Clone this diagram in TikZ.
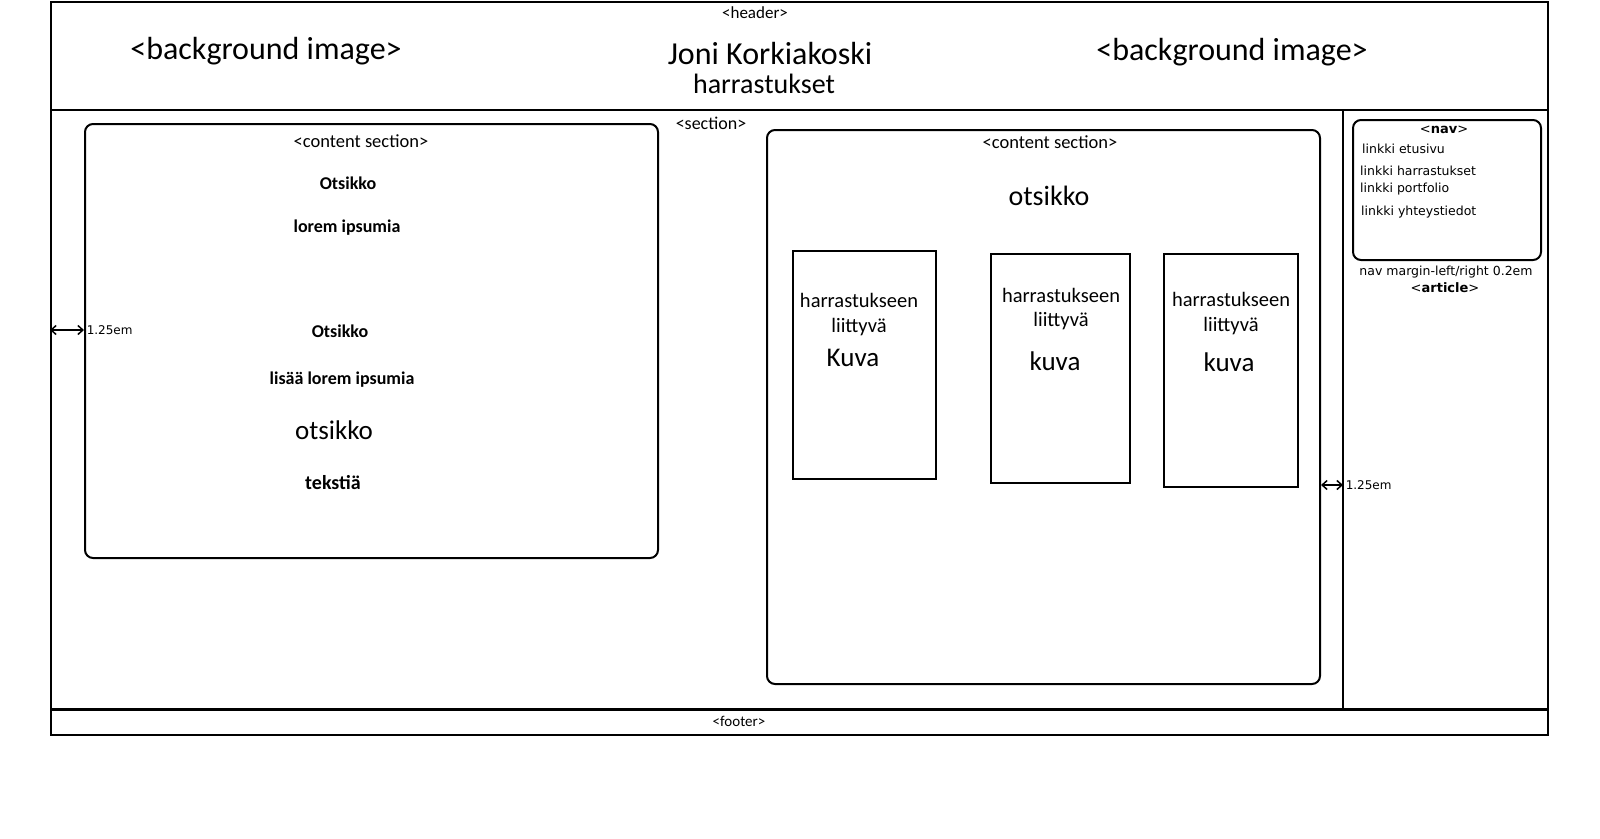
\documentclass[tikz,border=0pt]{standalone}
\usepackage{fontspec}
\setmainfont{Carlito}
\newfontfamily\tah{DejaVu Sans}
\usetikzlibrary{arrows.meta}
\newcommand{\fs}[1]{\fontsize{#1}{#1}\selectfont}
\tikzset{
  frame/.style={draw, line width=2pt, inner sep=0pt, anchor=north west},
  rbox/.style={frame, rounded corners=8pt},
  lbl/.style={inner sep=0pt, anchor=center},
  meas/.style={{Straight Barb[length=5pt,width=9pt]}-{Straight Barb[length=5pt,width=9pt]}, line width=1.5pt},
}
\begin{document}
\begin{tikzpicture}[x=1pt,y=-1pt]
\useasboundingbox (0,0) rectangle (1600,838);
% header
\node[frame, minimum width=1497pt, minimum height=108pt] (header) at (50,1) {};
\node[lbl] (hl) at (755,13) {\fs{17}<header>};
\node[lbl] (bg1) at (266,51) {\fs{32}<background image>};
\node[lbl] (bg2) at (1232,52) {\fs{32}<background image>};
\node[lbl] (name) at (770,54) {\fs{32}Joni Korkiakoski};
\node[lbl] (sub) at (764,84) {\fs{28}harrastukset};
% section
\node[frame, minimum width=1497pt, minimum height=600pt] (section) at (50,109) {};
\node[lbl] (sl) at (711,123) {\fs{18}<section>};
\coordinate (atop) at (1343,109);
\coordinate (abot) at (1343,709);
\draw[line width=1.5pt] (atop) -- (abot);
% footer
\node[frame, minimum width=1497pt, minimum height=25pt] (footer) at (50,709) {};
\draw[line width=3pt] (footer.north west) -- (footer.north east);
\node[lbl] (fl) at (739,721) {\fs{15}<footer>};
% left content section
\node[rbox, minimum width=573pt, minimum height=434pt] (lc) at (84,123) {};
\node[lbl] at (361,141) {\fs{18.5}<content section>};
\node[lbl] at (348,183) {\fs{18}\bfseries Otsikko};
\node[lbl] at (347,228) {\fs{18}\bfseries lorem ipsumia};
\node[lbl] at (340,331) {\fs{18}\bfseries Otsikko};
\node[lbl] at (342,380) {\fs{18}\bfseries lisää lorem ipsumia};
\node[lbl] at (334,430) {\fs{27}otsikko};
\node[lbl] at (333,483) {\fs{20}\bfseries tekstiä};
% left measure
\coordinate (lm) at (50,330);
\draw[meas] (lm) -- (lc.west |- lm) node[right, inner sep=2pt, font=\tah\fs{12}] {1.25em};
% right content section
\node[rbox, minimum width=553pt, minimum height=554pt] (rc) at (766,129) {};
\node[lbl] at (1050,142) {\fs{18.5}<content section>};
\node[lbl] at (1049,196) {\fs{28}otsikko};
% picture boxes
\node[frame, minimum width=143pt, minimum height=228pt] (p1) at (792,250) {};
\node[lbl] at (859,300) {\fs{20.5}harrastukseen};
\node[lbl] at (859,327) {\fs{20.5}liittyvä};
\node[lbl] at (853,358) {\fs{27}Kuva};
\node[frame, minimum width=139pt, minimum height=229pt] (p2) at (990,253) {};
\node[lbl] at (1061,295) {\fs{20.5}harrastukseen};
\node[lbl] at (1061,321) {\fs{20.5}liittyvä};
\node[lbl] at (1055,361) {\fs{27}kuva};
\node[frame, minimum width=134pt, minimum height=233pt] (p3) at (1163,253) {};
\node[lbl] at (1231,299) {\fs{20.5}harrastukseen};
\node[lbl] at (1231,326) {\fs{20.5}liittyvä};
\node[lbl] at (1229,362) {\fs{27}kuva};
% right measure
\coordinate (rm) at (1343,485);
\draw[meas] (rc.east |- rm) -- (rm) node[right, inner sep=2pt, font=\tah\fs{12}] {1.25em};
% nav
\node[rbox, minimum width=188pt, minimum height=140pt] (nav) at (1352,119) {};
\node[lbl] at (1444,130) {\tah\fs{13}<\textbf{nav}>};
\node[lbl, anchor=west] at (1362,149) {\tah\fs{12.5}linkki etusivu};
\node[lbl, anchor=west] at (1360,171) {\tah\fs{12.5}linkki harrastukset};
\node[lbl, anchor=west] at (1360,189) {\tah\fs{12.5}linkki portfolio};
\node[lbl, anchor=west] at (1361,212) {\tah\fs{12.5}linkki yhteystiedot};
\node[lbl] at (1446,272) {\tah\fs{12.5}nav margin-left/right 0.2em};
\node[lbl] at (1445,288) {\tah\fs{13}<\textbf{article}>};
\end{tikzpicture}
\end{document}
